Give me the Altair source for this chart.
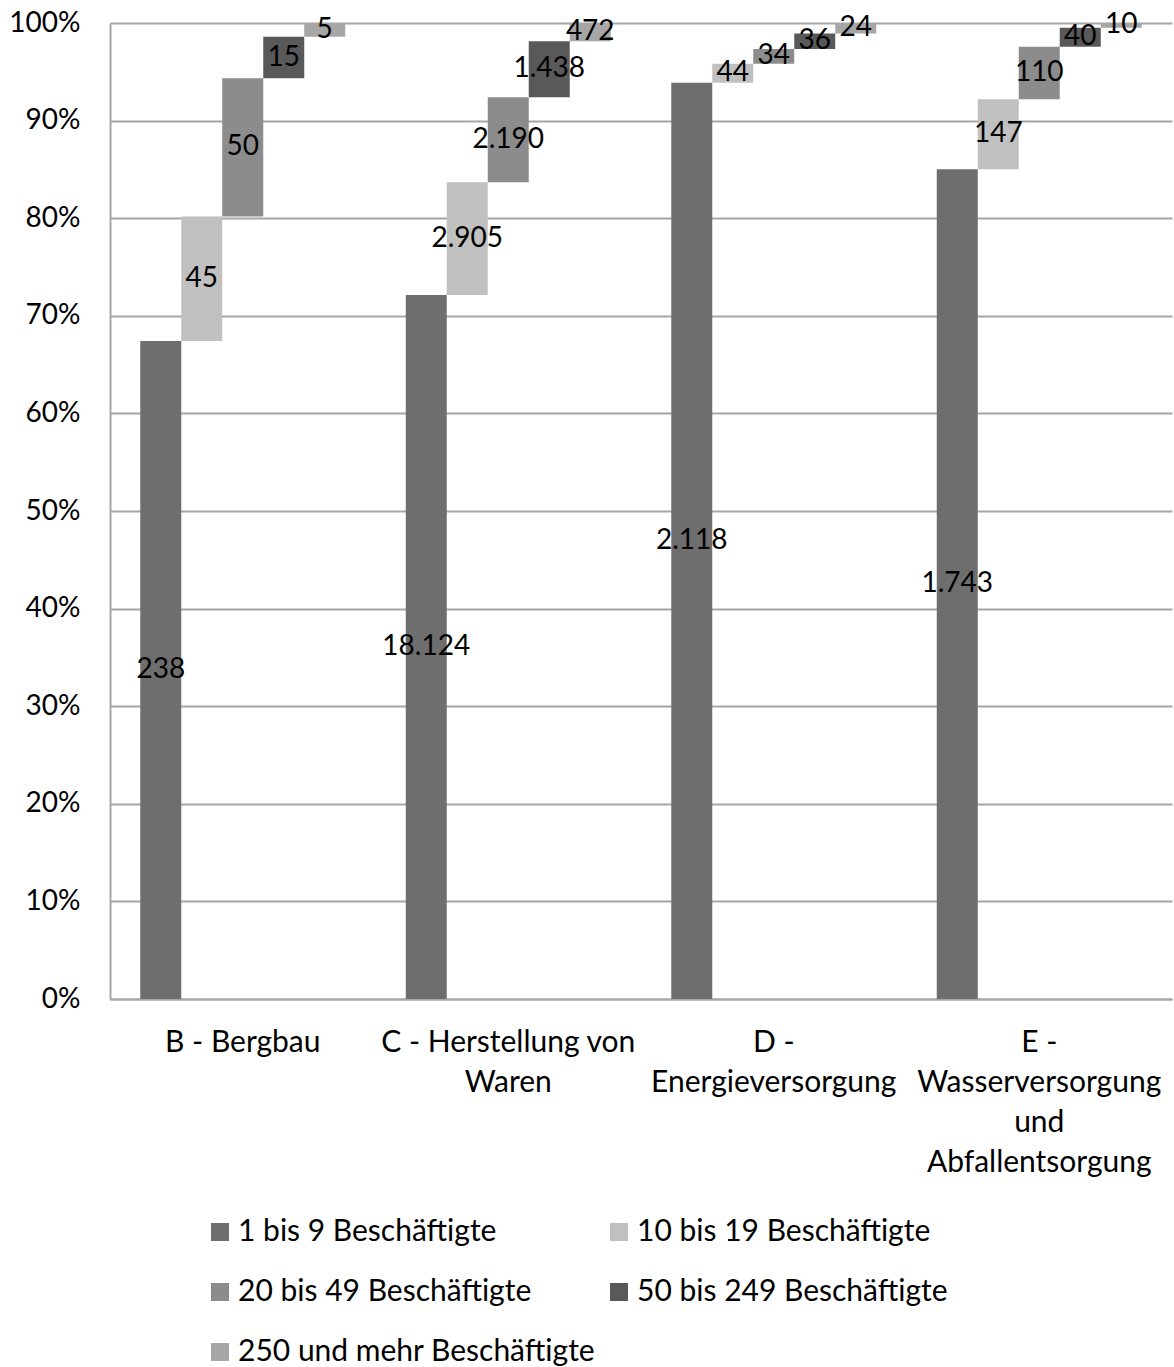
import altair as alt
import pandas as pd

# Sectors (line breaks mark where the axis label wraps)
categories = [
    "B - Bergbau",
    "C - Herstellung von\nWaren",
    "D -\nEnergieversorgung",
    "E -\nWasserversorgung\nund\nAbfallentsorgung",
]
# Size classes by number of employees
classes = [
    "1 bis 9 Beschäftigte",
    "10 bis 19 Beschäftigte",
    "20 bis 49 Beschäftigte",
    "50 bis 249 Beschäftigte",
    "250 und mehr Beschäftigte",
]
# Number of enterprises per size class, one list per sector
counts_b = [238, 45, 50, 15, 5]
counts_c = [18124, 2905, 2190, 1438, 472]
counts_d = [2118, 44, 34, 36, 24]
counts_e = [1743, 147, 110, 40, 10]
colors = ["#6e6e6e", "#c0c0c0", "#8c8c8c", "#595959", "#a6a6a6"]

FONT = "Lato"
FS_NUM = 28
FS_TXT = 30
INK = "#000000"

rows = []
for cat, counts in zip(categories, [counts_b, counts_c, counts_d, counts_e]):
    total = sum(counts)
    running = 0
    for cls, n in zip(classes, counts):
        start = running / total
        running += n
        end = running / total
        rows.append({"cat": cat, "cls": cls, "n": n,
                     "start": start, "end": end, "mid": (start + end) / 2})
df = pd.DataFrame(rows)

x = alt.X("cat:N", sort=categories, title=None,
          scale=alt.Scale(paddingInner=0.228, paddingOuter=0.114),
          axis=alt.Axis(labelAngle=0, labelExpr="split(datum.label, '\\n')",
                        labelFont=FONT, labelFontSize=FS_TXT, labelColor=INK,
                        labelLineHeight=40, labelPadding=28, labelLimit=400,
                        ticks=False, domainColor="#a6a6a6", domainWidth=2,
                        grid=False, labelBaseline="top"))
xo = alt.XOffset("cls:N", sort=classes,
                 scale=alt.Scale(paddingInner=0, paddingOuter=0))

base = alt.Chart(df)

bars = base.mark_bar().encode(
    x=x,
    xOffset=xo,
    y=alt.Y("start:Q", title=None,
            scale=alt.Scale(domain=[0, 1], nice=False),
            axis=alt.Axis(format=".0%", values=[i / 10 for i in range(11)],
                          labelFont=FONT, labelFontSize=FS_NUM, labelColor=INK,
                          labelPadding=30, ticks=False,
                          domainColor="#a6a6a6", domainWidth=2,
                          gridColor="#a6a6a6", gridWidth=2)),
    y2="end:Q",
    color=alt.Color("cls:N", sort=classes, title=None,
                    scale=alt.Scale(domain=classes, range=colors),
                    legend=alt.Legend(orient="none", legendX=95, legendY=1194,
                                      direction="horizontal",
                                      columns=2, symbolType="square",
                                      symbolSize=324, symbolStrokeWidth=0,
                                      labelFont=FONT, labelFontSize=FS_TXT,
                                      labelColor=INK, labelLimit=500,
                                      columnPadding=8, rowPadding=30,
                                      labelOffset=3)),
)

labels = base.mark_text(font=FONT, fontSize=FS_NUM, color=INK,
                        baseline="middle", align="center").encode(
    x=x,
    xOffset=xo,
    y=alt.Y("mid:Q"),
    text=alt.Text("n:Q", format=",d"),
)

chart = (
    alt.layer(bars, labels)
    .properties(width=1062, height=976,
                padding={"left": 8, "top": 9, "right": 2, "bottom": 0})
    .configure(locale={"number": {"decimal": ",", "thousands": ".",
                                  "grouping": [3], "currency": ["", " €"]}})
    .configure_view(stroke=None)
)

chart.save("out.html", embed_options={"renderer": "svg", "actions": False})
